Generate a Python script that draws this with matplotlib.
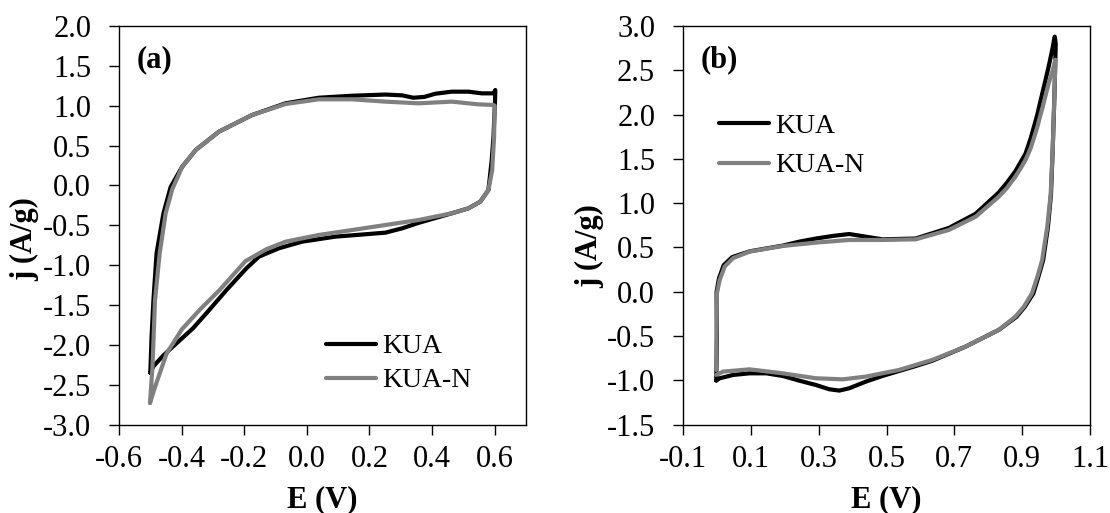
import matplotlib
matplotlib.use("Agg")
import matplotlib.pyplot as plt

plt.rcParams['font.family'] = ['Liberation Serif', 'DejaVu Serif']
plt.rcParams['axes.unicode_minus'] = False

# ---- panel (a): E (V) vs j (A/g), one full cycle per sample ----
kua_a_E = [-0.500, -0.496, -0.490, -0.480, -0.458, -0.435, -0.398, -0.355, -0.281, -0.175,
           -0.068, 0.038, 0.144, 0.251, 0.304, 0.340, 0.375, 0.410, 0.463, 0.516, 0.559, 0.596, 0.602,
           0.601, 0.596, 0.590, 0.580, 0.554, 0.516, 0.463, 0.410, 0.357, 0.304, 0.251, 0.197,
           0.091, -0.015, -0.090, -0.153, -0.193, -0.256, -0.320, -0.363, -0.427, -0.460,
           -0.490, -0.500]
kua_a_j = [-2.35, -1.90, -1.44, -0.85, -0.35, -0.02, 0.235, 0.444, 0.674, 0.883,
           1.03, 1.10, 1.125, 1.14, 1.13, 1.10, 1.11, 1.15, 1.176, 1.176, 1.155, 1.155, 1.197,
           1.05, 0.60, 0.30, -0.058, -0.204, -0.288, -0.35, -0.41, -0.47, -0.539, -0.593, -0.61,
           -0.643, -0.706, -0.79, -0.894, -1.04, -1.31, -1.60, -1.79, -2.02, -2.14,
           -2.27, -2.35]

kua_n_a_E = [-0.501, -0.493, -0.485, -0.470, -0.451, -0.430, -0.398, -0.355, -0.281, -0.175,
             -0.068, 0.038, 0.144, 0.251, 0.357, 0.463, 0.548, 0.596, 0.600,
             0.598, 0.592, 0.580, 0.554, 0.516, 0.463, 0.357, 0.251, 0.144, 0.038, -0.068,
             -0.129, -0.196, -0.278, -0.342, -0.400, -0.448, -0.485, -0.501]
kua_n_a_j = [-2.73, -2.27, -1.44, -0.85, -0.35, -0.05, 0.235, 0.444, 0.674, 0.883,
             1.021, 1.08, 1.08, 1.051, 1.03, 1.051, 1.017, 1.009, 1.00,
             0.60, 0.19, -0.058, -0.204, -0.288, -0.35, -0.434, -0.497, -0.56, -0.622, -0.706,
             -0.80, -0.95, -1.31, -1.56, -1.81, -2.11, -2.53, -2.73]

# ---- panel (b) ----
kua_b_E = [-0.002, 0.000, -0.001, 0.006, 0.020, 0.045, 0.096, 0.194, 0.243, 0.292, 0.341,
           0.390, 0.439, 0.488, 0.586, 0.684, 0.763, 0.831, 0.855, 0.880, 0.895, 0.910, 0.925,
           0.944, 0.960, 0.978, 0.988, 0.996,
           0.999, 0.995, 0.990, 0.985, 0.976, 0.962, 0.948, 0.933, 0.908, 0.883, 0.831, 0.733,
           0.635, 0.586, 0.488, 0.439, 0.390, 0.361, 0.331, 0.292, 0.243, 0.194, 0.145, 0.096,
           0.047, 0.008, -0.002]
kua_b_j = [-1.00, -0.50, 0.00, 0.15, 0.30, 0.39, 0.455, 0.52, 0.565, 0.60, 0.629,
           0.651, 0.621, 0.591, 0.60, 0.72, 0.88, 1.12, 1.23, 1.36, 1.46, 1.56, 1.73,
           1.99, 2.25, 2.54, 2.72, 2.88,
           2.80, 2.20, 1.60, 1.10, 0.73, 0.358, 0.17, -0.02, -0.17, -0.285, -0.432, -0.621,
           -0.78, -0.84, -0.952, -1.016, -1.091, -1.117, -1.102, -1.054, -1.005, -0.952, -0.922, -0.922,
           -0.941, -0.978, -1.005]

kua_n_b_E = [-0.002, 0.000, 0.008, 0.023, 0.047, 0.096, 0.194, 0.292, 0.390, 0.488, 0.586,
             0.684, 0.763, 0.831, 0.855, 0.880, 0.895, 0.910, 0.925, 0.944, 0.960, 0.978,
             0.990, 0.998,
             0.995, 0.990, 0.984, 0.974, 0.959, 0.945, 0.929, 0.905, 0.880, 0.831, 0.733,
             0.635, 0.537, 0.439, 0.371, 0.292, 0.194, 0.096, 0.018, -0.002]
kua_n_b_j = [-0.884, -0.018, 0.132, 0.283, 0.377, 0.452, 0.516, 0.554, 0.584, 0.584, 0.591,
             0.697, 0.847, 1.073, 1.17, 1.299, 1.39, 1.487, 1.62, 1.85, 2.08, 2.35,
             2.50, 2.62,
             2.20, 1.60, 1.10, 0.734, 0.358, 0.17, -0.018, -0.17, -0.282, -0.432, -0.621,
             -0.771, -0.884, -0.959, -0.99, -0.978, -0.922, -0.877, -0.903, -0.94]

labels = ['KUA', 'KUA-N']
colors = ['#000000', '#808080']

xticks_a = [-0.6, -0.4, -0.2, 0.0, 0.2, 0.4, 0.6]
yticks_a = [-3.0, -2.5, -2.0, -1.5, -1.0, -0.5, 0.0, 0.5, 1.0, 1.5, 2.0]
xticks_b = [-0.1, 0.1, 0.3, 0.5, 0.7, 0.9, 1.1]
yticks_b = [-1.5, -1.0, -0.5, 0.0, 0.5, 1.0, 1.5, 2.0, 2.5, 3.0]

fig = plt.figure(figsize=(11.1, 5.13), dpi=100)
ax_a = fig.add_axes([119 / 1110, 88.5 / 513, 407 / 1110, 398.5 / 513])
ax_b = fig.add_axes([683 / 1110, 88.5 / 513, 407 / 1110, 398.5 / 513])

panels = [
    (ax_a, [(kua_a_E, kua_a_j), (kua_n_a_E, kua_n_a_j)], (-0.6, 0.7), (-3.0, 2.0),
     xticks_a, yticks_a, '(a)'),
    (ax_b, [(kua_b_E, kua_b_j), (kua_n_b_E, kua_n_b_j)], (-0.1, 1.1), (-1.5, 3.0),
     xticks_b, yticks_b, '(b)'),
]

for ax, series, xlim, ylim, xt, yt, tag in panels:
    for (E, j), lab, col in zip(series, labels, colors):
        ax.plot(E, j, color=col, lw=3.0, label=lab, solid_joinstyle='round',
                solid_capstyle='round')
    ax.set_xlim(*xlim)
    ax.set_ylim(*ylim)
    ax.set_xticks(xt)
    ax.set_yticks(yt)
    ax.set_xticklabels(['%.1f' % v for v in xt])
    ax.set_yticklabels(['%.1f' % v for v in yt])
    ax.tick_params(direction='out', length=7, width=1.0, labelsize=22)
    ax.tick_params(axis='x', pad=8)
    ax.tick_params(axis='y', pad=13)
    for sp in ax.spines.values():
        sp.set_linewidth(1.0)
    ax.set_xlabel('E (V)', fontsize=22, fontweight='bold')
    ax.set_ylabel('j (A/g)', fontsize=22, fontweight='bold')
    ax.xaxis.set_label_coords(0.5, -0.152)
    ax.text(0.043, 0.915, tag, transform=ax.transAxes, fontsize=22,
            fontweight='bold', va='center', ha='left')

ax_a.yaxis.set_label_coords(-0.197, 0.465)
ax_b.yaxis.set_label_coords(-0.193, 0.448)

ax_a.legend(loc='upper left', bbox_to_anchor=(0.509, 0.227), frameon=False,
            fontsize=20, handlelength=1.8, handletextpad=0.2, labelspacing=0.3,
            borderpad=0, borderaxespad=0)
ax_b.legend(loc='upper left', bbox_to_anchor=(0.089, 0.78), frameon=False,
            fontsize=20, handlelength=1.8, handletextpad=0.2, labelspacing=0.5,
            borderpad=0, borderaxespad=0)

fig.savefig('out.png', dpi=100)
